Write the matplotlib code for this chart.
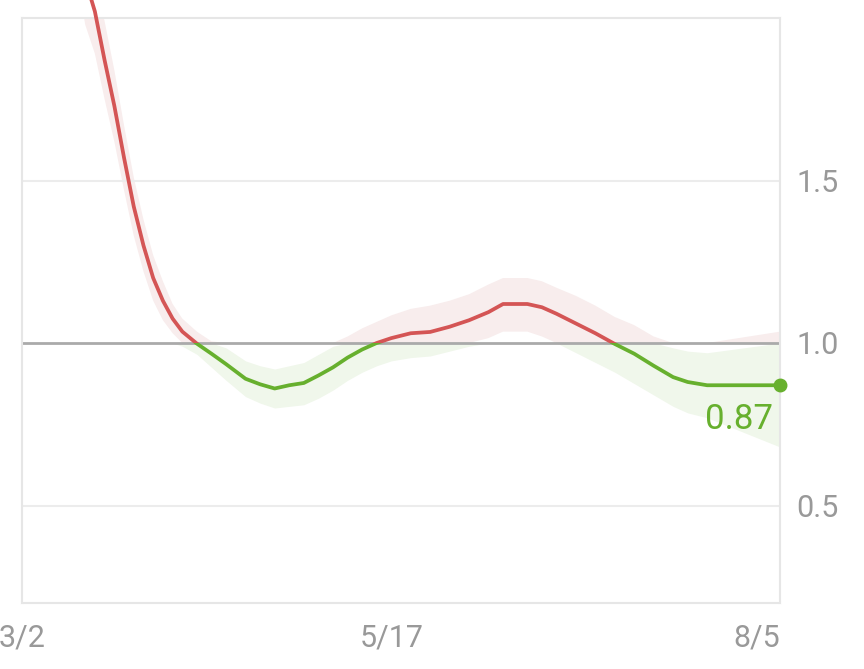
import numpy as np
import matplotlib.pyplot as plt
import matplotlib.dates as mdates
from matplotlib.patches import Rectangle

# dates and estimated values (Rt-like)
dates = ['2020-03-02', '2020-03-07', '2020-03-12', '2020-03-15', '2020-03-17',
         '2020-03-19', '2020-03-21', '2020-03-23', '2020-03-25', '2020-03-27',
         '2020-03-29', '2020-03-31', '2020-04-02', '2020-04-04', '2020-04-07',
         '2020-04-10', '2020-04-13', '2020-04-17', '2020-04-20', '2020-04-23',
         '2020-04-26', '2020-04-29', '2020-05-02', '2020-05-05', '2020-05-08',
         '2020-05-11', '2020-05-14', '2020-05-17', '2020-05-21', '2020-05-25',
         '2020-05-29', '2020-06-02', '2020-06-06', '2020-06-09', '2020-06-14',
         '2020-06-17', '2020-06-20', '2020-06-24', '2020-06-28', '2020-07-02',
         '2020-07-06', '2020-07-10', '2020-07-14', '2020-07-17', '2020-07-21',
         '2020-08-05']
rt = [3.40, 2.90, 2.40, 2.12, 2.02,
      1.87, 1.73, 1.57, 1.42, 1.30,
      1.20, 1.13, 1.075, 1.035, 0.998,
      0.967, 0.935, 0.89, 0.873, 0.86,
      0.87, 0.877, 0.90, 0.925, 0.955,
      0.98, 1.00, 1.015, 1.03, 1.034,
      1.05, 1.07, 1.095, 1.12, 1.12,
      1.11, 1.09, 1.06, 1.03, 0.997,
      0.967, 0.93, 0.895, 0.88, 0.87,
      0.87]
low = [3.20, 2.72, 2.25, 1.98, 1.89,
       1.75, 1.62, 1.47, 1.33, 1.22,
       1.13, 1.07, 1.03, 0.99, 0.965,
       0.925, 0.885, 0.835, 0.815, 0.80,
       0.805, 0.81, 0.83, 0.855, 0.885,
       0.91, 0.93, 0.945, 0.955, 0.96,
       0.975, 0.99, 1.015, 1.035, 1.035,
       1.02, 1.00, 0.97, 0.94, 0.91,
       0.875, 0.84, 0.805, 0.785, 0.77,
       0.68]
high = [3.60, 3.08, 2.55, 2.26, 2.15,
        1.99, 1.84, 1.67, 1.51, 1.38,
        1.27, 1.19, 1.12, 1.075, 1.035,
        1.005, 0.985, 0.945, 0.93, 0.92,
        0.93, 0.94, 0.965, 0.99, 1.02,
        1.045, 1.065, 1.085, 1.105, 1.115,
        1.13, 1.15, 1.18, 1.20, 1.20,
        1.19, 1.17, 1.145, 1.115, 1.08,
        1.055, 1.02, 0.985, 0.975, 0.97,
        1.035]
x_ticks = ['2020-03-02', '2020-05-17', '2020-08-05']
x_labels = ['3/2', '5/17', '8/5']
y_ticks = [0.5, 1.0, 1.5]

x = np.array(dates, dtype='datetime64[D]')
rt = np.array(rt)
low = np.array(low)
high = np.array(high)

red = '#d45555'
green = '#67b02e'
gray = '#999999'

fig = plt.figure(figsize=(8.64, 6.69), dpi=100)
ax = fig.add_axes([22 / 864, 1 - 603 / 669, 758 / 864, 585 / 669])

# bands split at 1.0
ax.fill_between(x, np.maximum(low, 1), np.maximum(high, 1), color='#f8eded', lw=0)
ax.fill_between(x, np.minimum(low, 1), np.minimum(high, 1), color='#f0f7eb', lw=0)

for yv in [0.5, 1.5]:
    ax.axhline(yv, color='#ececec', lw=1.5, zorder=1)
ax.axhline(1.0, color='#aaaaaa', lw=2, zorder=2)

x0 = mdates.date2num(x[0])
x1 = mdates.date2num(x[-1])
l_red, = ax.plot(x, rt, color=red, lw=2.7, zorder=3, solid_capstyle='round')
l_red.set_clip_path(Rectangle((x0 - 10, 1.0), x1 - x0 + 20, 10, transform=ax.transData))
l_green, = ax.plot(x, rt, color=green, lw=2.7, zorder=3, solid_capstyle='round')
l_green.set_clip_path(Rectangle((x0 - 10, -10), x1 - x0 + 20, 11, transform=ax.transData))

ax.plot(x[-1:], rt[-1:], 'o', color=green, ms=9, zorder=4, clip_on=False)
ax.annotate(f'{rt[-1]:.2f}', (x[-1], rt[-1]), xytext=(-5, -13), textcoords='offset points',
            ha='right', va='top', color=green, fontsize=25, family='Roboto')

ax.set_xlim(x[0], x[-1])
ax.set_ylim(0.2, 2.0)

ax.set_xticks(np.array(x_ticks, dtype='datetime64[D]'))
ax.set_xticklabels(x_labels)
ax.set_yticks(y_ticks)
ax.set_yticklabels([f'{v:.1f}' for v in y_ticks])
ax.yaxis.tick_right()
ax.tick_params(length=0, colors=gray, labelsize=22)
ax.tick_params(axis='x', pad=15)
ax.tick_params(axis='y', pad=12)
for t in ax.get_xticklabels() + ax.get_yticklabels():
    t.set_family('Roboto')
ax.get_xticklabels()[-1].set_horizontalalignment('right')

for s in ax.spines.values():
    s.set_color('#e6e6e6')
    s.set_linewidth(1.5)

fig.savefig('out.png', dpi=100)
